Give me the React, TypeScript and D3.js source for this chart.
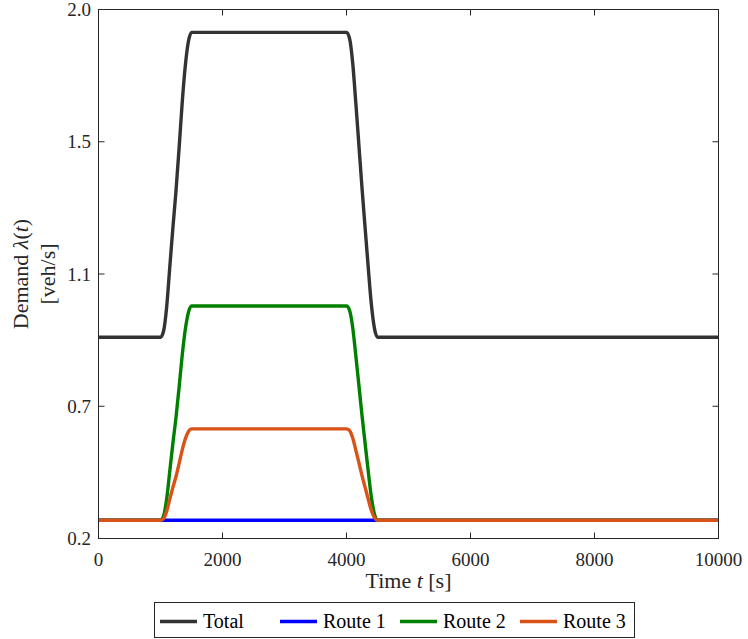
import React from "react";
import * as d3 from "d3";

// Time samples [s]
const times = [0, 1000, 1050, 1100, 1150, 1200, 1250, 1300, 1350, 1400, 1450, 1500,
  4000, 4050, 4100, 4150, 4200, 4250, 4300, 4350, 4400, 4450, 4500, 10000];

const totalDemand = [0.885, 0.885, 0.906, 0.989, 1.124, 1.258, 1.383, 1.528, 1.683, 1.808, 1.891, 1.922,
  1.922, 1.901, 1.818, 1.683, 1.538, 1.393, 1.258, 1.124, 0.999, 0.916, 0.885, 0.885];
const route1Demand = [0.262, 0.262, 0.262, 0.262, 0.262, 0.262, 0.262, 0.262, 0.262, 0.262, 0.262, 0.262,
  0.262, 0.262, 0.262, 0.262, 0.262, 0.262, 0.262, 0.262, 0.262, 0.262, 0.262, 0.262];
const route2Demand = [0.262, 0.262, 0.277, 0.335, 0.430, 0.524, 0.612, 0.714, 0.823, 0.911, 0.969, 0.991,
  0.991, 0.976, 0.918, 0.823, 0.721, 0.619, 0.524, 0.430, 0.342, 0.284, 0.262, 0.262];
const route3Demand = [0.262, 0.262, 0.268, 0.293, 0.334, 0.374, 0.411, 0.455, 0.501, 0.539, 0.564, 0.573,
  0.573, 0.567, 0.542, 0.501, 0.458, 0.414, 0.374, 0.334, 0.296, 0.271, 0.262, 0.262];

const seriesNames = ["Total", "Route 1", "Route 2", "Route 3"];
const seriesColors = ["#333333", "#0000ff", "#008000", "#d95319"];

const xTicks = [0, 2000, 4000, 6000, 8000, 10000];
const yTicks = [0.2, 0.65, 1.1, 1.55, 2.0];
const yTickLabels = ["0.2", "0.7", "1.1", "1.5", "2.0"];

const W = 748, H = 639;
const X0 = 98.5, X1 = 718.5, Y0 = 9.5, Y1 = 538.5;
const FONT = "'Liberation Serif', 'Times New Roman', serif";

export default function App() {
  const x = d3.scaleLinear().domain([0, 10000]).range([X0, X1]);
  const y = d3.scaleLinear().domain([0.2, 2.0]).range([Y1, Y0]);
  const line = d3.line<[number, number]>()
    .x(d => x(d[0]))
    .y(d => y(d[1]))
    .curve(d3.curveMonotoneX);
  const allSeries = [totalDemand, route1Demand, route2Demand, route3Demand];
  const axisColor = "#262626";
  const tickLen = 6;
  const legendX = [160, 280, 400, 520];

  return (
    <svg width={W} height={H} style={{ position: "absolute", left: 0, top: 0, background: "#fff" }}
      fontFamily={FONT}>
      <rect x={0} y={0} width={W} height={H} fill="#fff" />
      <defs>
        <clipPath id="plotclip">
          <rect x={X0} y={Y0 - 2} width={X1 - X0} height={Y1 - Y0 + 4} />
        </clipPath>
      </defs>
      {/* series */}
      <g clipPath="url(#plotclip)">
        {allSeries.map((vals, i) => (
          <path key={i} d={line(times.map((t, k) => [t, vals[k]] as [number, number])) || ""}
            fill="none" stroke={seriesColors[i]} strokeWidth={3.4} strokeLinejoin="round" />
        ))}
      </g>
      {/* box */}
      <rect x={X0} y={Y0} width={X1 - X0} height={Y1 - Y0} fill="none" stroke={axisColor} strokeWidth={1} />
      {/* x ticks */}
      {xTicks.map(t => (
        <g key={"x" + t}>
          <line x1={x(t)} x2={x(t)} y1={Y1} y2={Y1 - tickLen} stroke={axisColor} />
          <line x1={x(t)} x2={x(t)} y1={Y0} y2={Y0 + tickLen} stroke={axisColor} />
          <text x={x(t)} y={566} textAnchor="middle" fontSize={19} fill="#262626">{t}</text>
        </g>
      ))}
      {/* y ticks */}
      {yTicks.map((v, i) => (
        <g key={"y" + i}>
          <line x1={X0} x2={X0 + tickLen} y1={y(v)} y2={y(v)} stroke={axisColor} />
          <line x1={X1} x2={X1 - tickLen} y1={y(v)} y2={y(v)} stroke={axisColor} />
          <text x={91} y={y(v) + 6.5} textAnchor="end" fontSize={19} fill="#262626">{yTickLabels[i]}</text>
        </g>
      ))}
      {/* x label */}
      <text x={(X0 + X1) / 2} y={588} textAnchor="middle" fontSize={22} fill="#262626">
        Time <tspan fontStyle="italic">t</tspan> [s]
      </text>
      {/* y label */}
      <g transform={`translate(28,${(Y0 + Y1) / 2}) rotate(-90)`}>
        <text x={0} y={0} textAnchor="middle" fontSize={22} fill="#262626">
          Demand <tspan fontStyle="italic">λ</tspan>(<tspan fontStyle="italic">t</tspan>)
        </text>
      </g>
      <g transform={`translate(54.5,${(Y0 + Y1) / 2}) rotate(-90)`}>
        <text x={0} y={0} textAnchor="middle" fontSize={22} fill="#262626">[veh/s]</text>
      </g>
      {/* legend */}
      <rect x={154.5} y={602.5} width={480} height={35} fill="#fff" stroke={axisColor} strokeWidth={1} />
      {seriesNames.map((name, i) => (
        <g key={name}>
          <line x1={legendX[i]} x2={legendX[i] + 37} y1={621.5} y2={621.5} stroke={seriesColors[i]} strokeWidth={3.3} />
          <text x={legendX[i] + 43} y={627.5} fontSize={20} fill="#000">{name}</text>
        </g>
      ))}
    </svg>
  );
}
